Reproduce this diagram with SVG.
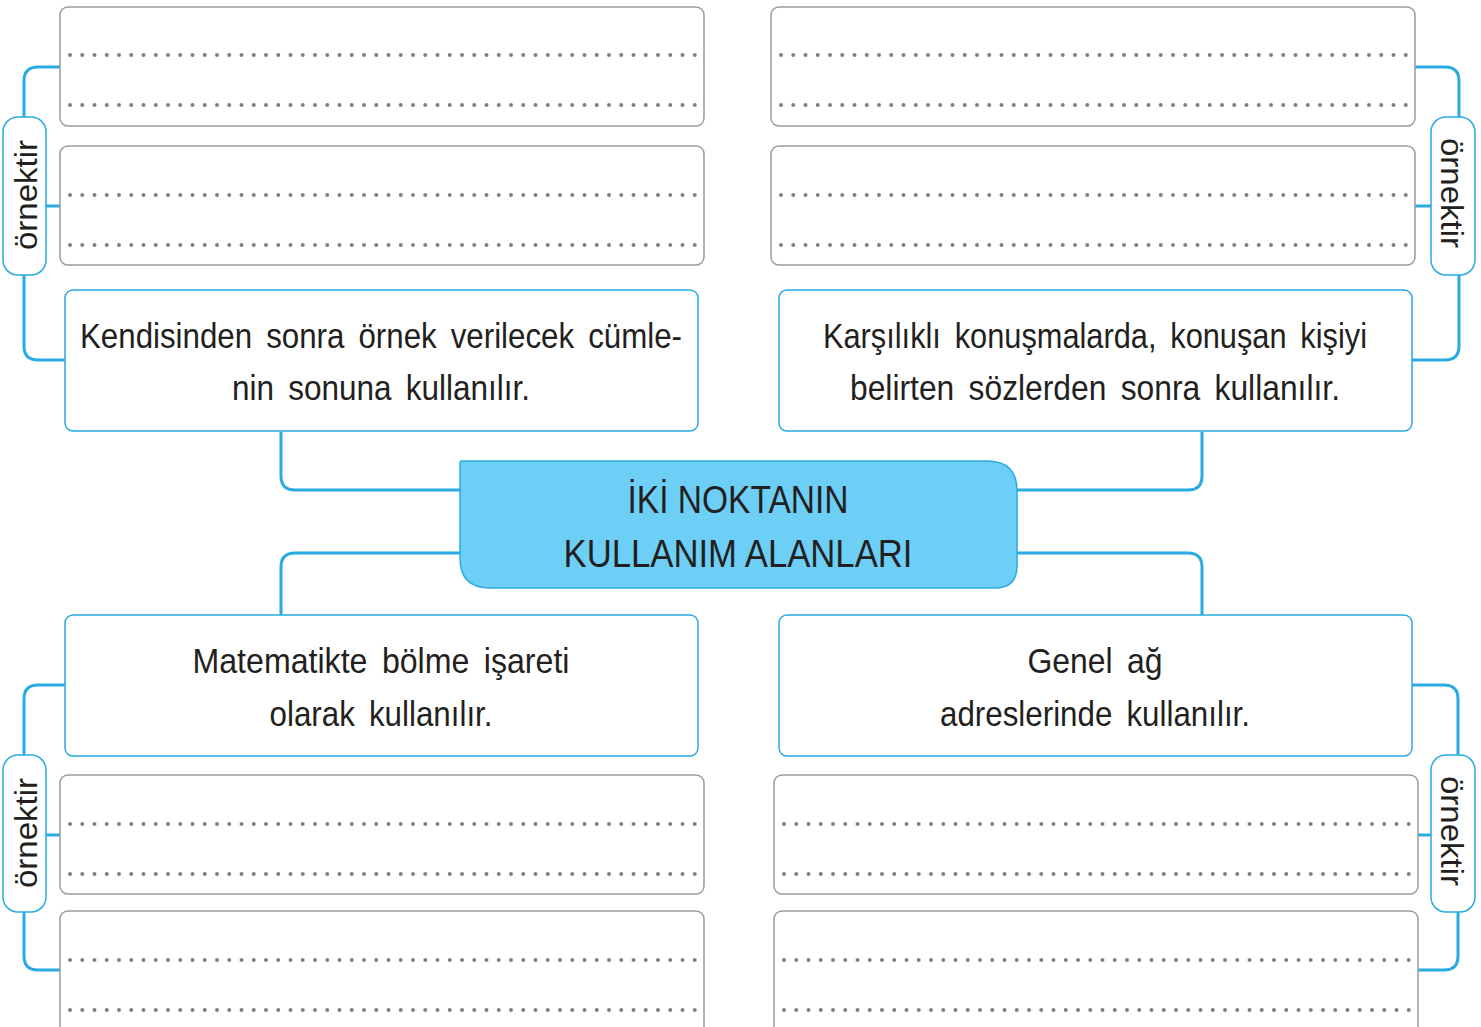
<svg xmlns="http://www.w3.org/2000/svg" width="1481" height="1027" viewBox="0 0 1481 1027">
<style>
.bg{fill:#ffffff}
.dbox{fill:#ffffff;stroke:#9b9b9b;stroke-width:1.5}
.tbox{fill:#ffffff;stroke:#29abe2;stroke-width:1.5}
.pill{fill:#ffffff;stroke:#29abe2;stroke-width:1.5}
.dots{stroke:#808080;stroke-width:4;stroke-linecap:round;stroke-dasharray:0 12.25;fill:none}
.con{fill:none;stroke:#29abe2;stroke-width:3}
.t{font-family:"Liberation Sans","DejaVu Sans",sans-serif;fill:#231f20;text-anchor:middle}
.tx{font-size:35px;word-spacing:6px}
.tc{font-size:38px}
.tp{font-size:32px}
</style>
<rect class="bg" x="0" y="0" width="1481" height="1027"/>

<g id="connectors">
  <path class="con" d="M460,490 H295 Q281,490 281,476 V432"/>
  <path class="con" d="M460,553 H295 Q281,553 281,567 V615"/>
  <path class="con" d="M1017,490 H1188 Q1202,490 1202,476 V432"/>
  <path class="con" d="M1017,553 H1188 Q1202,553 1202,567 V615"/>
  <path class="con" d="M60,67 H38 Q24,67 24,81 V117"/>
  <path class="con" d="M24,275 V346 Q24,360 38,360 H65"/>
  <path class="con" d="M46,206 H60"/>
  <path class="con" d="M1415,67 H1445 Q1459,67 1459,81 V117"/>
  <path class="con" d="M1459,275 V346 Q1459,360 1445,360 H1412"/>
  <path class="con" d="M1431,206 H1415"/>
  <path class="con" d="M65,685 H38 Q24,685 24,699 V755"/>
  <path class="con" d="M24,912 V956 Q24,970 38,970 H60"/>
  <path class="con" d="M46,835 H60"/>
  <path class="con" d="M1412,685 H1444 Q1458,685 1458,699 V755"/>
  <path class="con" d="M1458,912 V956 Q1458,970 1444,970 H1418"/>
  <path class="con" d="M1431,835 H1418"/>
</g>

<g id="center">
  <path d="M462,461 H987 Q1017,461 1017,491 V566 Q1017,588 995,588 H490 Q460,588 460,558 V463 Q460,461 462,461 Z" fill="#6dcff6" stroke="#29abe2" stroke-width="1.5"/>
  <text class="t tc" x="738" y="513" textLength="221" lengthAdjust="spacingAndGlyphs">İKİ NOKTANIN</text>
  <text class="t tc" x="738" y="567" textLength="349" lengthAdjust="spacingAndGlyphs">KULLANIM ALANLARI</text>
</g>

<g id="tl-box1">
  <rect class="dbox" x="60" y="7" width="644" height="119" rx="8"/>
  <line class="dots" x1="70" y1="55" x2="696" y2="55"/>
  <line class="dots" x1="70" y1="105" x2="696" y2="105"/>
</g>
<g id="tl-box2">
  <rect class="dbox" x="60" y="146" width="644" height="119" rx="8"/>
  <line class="dots" x1="70" y1="195" x2="696" y2="195"/>
  <line class="dots" x1="70" y1="245" x2="696" y2="245"/>
</g>
<g id="tl-text">
  <rect class="tbox" x="65" y="290" width="633" height="141" rx="8"/>
  <text class="t tx" x="381" y="348" textLength="602" lengthAdjust="spacingAndGlyphs">Kendisinden sonra örnek verilecek cümle-</text>
  <text class="t tx" x="381" y="400" textLength="298" lengthAdjust="spacingAndGlyphs">nin sonuna kullanılır.</text>
</g>
<g id="tl-ornek">
  <rect class="pill" x="3" y="117" width="43" height="158" rx="15"/>
  <text class="t tp" transform="translate(37,195) rotate(-90)" x="0" y="0" textLength="110" lengthAdjust="spacingAndGlyphs">örnektir</text>
</g>

<g id="tr-box1">
  <rect class="dbox" x="771" y="7" width="644" height="119" rx="8"/>
  <line class="dots" x1="781" y1="55" x2="1407" y2="55"/>
  <line class="dots" x1="781" y1="105" x2="1407" y2="105"/>
</g>
<g id="tr-box2">
  <rect class="dbox" x="771" y="146" width="644" height="119" rx="8"/>
  <line class="dots" x1="781" y1="195" x2="1407" y2="195"/>
  <line class="dots" x1="781" y1="245" x2="1407" y2="245"/>
</g>
<g id="tr-text">
  <rect class="tbox" x="779" y="290" width="633" height="141" rx="8"/>
  <text class="t tx" x="1095" y="348" textLength="544" lengthAdjust="spacingAndGlyphs">Karşılıklı konuşmalarda, konuşan kişiyi</text>
  <text class="t tx" x="1095" y="400" textLength="490" lengthAdjust="spacingAndGlyphs">belirten sözlerden sonra kullanılır.</text>
</g>
<g id="tr-ornek">
  <rect class="pill" x="1431" y="117" width="44" height="158" rx="15"/>
  <text class="t tp" transform="translate(1441,193) rotate(90)" x="0" y="0" textLength="110" lengthAdjust="spacingAndGlyphs">örnektir</text>
</g>

<g id="bl-text">
  <rect class="tbox" x="65" y="615" width="633" height="141" rx="8"/>
  <text class="t tx" x="381" y="673" textLength="377" lengthAdjust="spacingAndGlyphs">Matematikte bölme işareti</text>
  <text class="t tx" x="381" y="726" textLength="223" lengthAdjust="spacingAndGlyphs">olarak kullanılır.</text>
</g>
<g id="bl-box1">
  <rect class="dbox" x="60" y="775" width="644" height="119" rx="8"/>
  <line class="dots" x1="70" y1="824" x2="696" y2="824"/>
  <line class="dots" x1="70" y1="874" x2="696" y2="874"/>
</g>
<g id="bl-box2">
  <rect class="dbox" x="60" y="911" width="644" height="140" rx="8"/>
  <line class="dots" x1="70" y1="960" x2="696" y2="960"/>
  <line class="dots" x1="70" y1="1010" x2="696" y2="1010"/>
</g>
<g id="bl-ornek">
  <rect class="pill" x="3" y="755" width="43" height="157" rx="15"/>
  <text class="t tp" transform="translate(37,833) rotate(-90)" x="0" y="0" textLength="110" lengthAdjust="spacingAndGlyphs">örnektir</text>
</g>

<g id="br-text">
  <rect class="tbox" x="779" y="615" width="633" height="141" rx="8"/>
  <text class="t tx" x="1095" y="673" textLength="135" lengthAdjust="spacingAndGlyphs">Genel ağ</text>
  <text class="t tx" x="1095" y="726" textLength="310" lengthAdjust="spacingAndGlyphs">adreslerinde kullanılır.</text>
</g>
<g id="br-box1">
  <rect class="dbox" x="774" y="775" width="644" height="119" rx="8"/>
  <line class="dots" x1="784" y1="824" x2="1410" y2="824"/>
  <line class="dots" x1="784" y1="874" x2="1410" y2="874"/>
</g>
<g id="br-box2">
  <rect class="dbox" x="774" y="911" width="644" height="140" rx="8"/>
  <line class="dots" x1="784" y1="960" x2="1410" y2="960"/>
  <line class="dots" x1="784" y1="1010" x2="1410" y2="1010"/>
</g>
<g id="br-ornek">
  <rect class="pill" x="1431" y="755" width="44" height="157" rx="15"/>
  <text class="t tp" transform="translate(1441,831) rotate(90)" x="0" y="0" textLength="110" lengthAdjust="spacingAndGlyphs">örnektir</text>
</g>
</svg>
